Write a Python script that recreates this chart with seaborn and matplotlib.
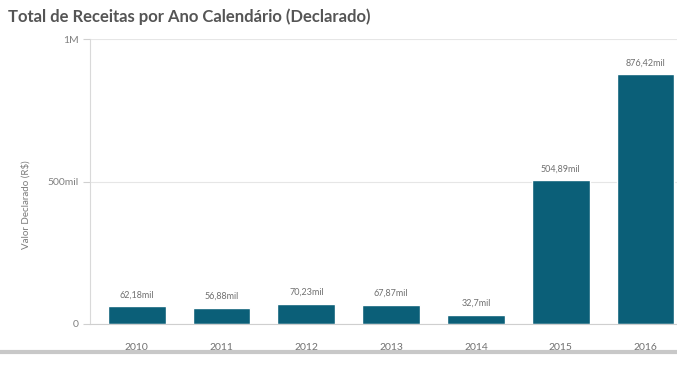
import matplotlib
matplotlib.use("Agg")
import matplotlib.pyplot as plt
import seaborn as sns
import pandas as pd
from matplotlib.lines import Line2D

years = ["2010", "2011", "2012", "2013", "2014", "2015", "2016"]
values = [62180, 56880, 70230, 67870, 32700, 504890, 876420]
value_labels = ["62,18mil", "56,88mil", "70,23mil", "67,87mil", "32,7mil", "504,89mil", "876,42mil"]
y_ticks = [0, 500000, 1000000]
y_tick_labels = ["0", "500mil", "1M"]

df = pd.DataFrame({"ano": years, "valor": values})

sns.set_theme(style="white")
plt.rcParams['font.family'] = ['Lato', 'DejaVu Sans']

fig = plt.figure(figsize=(6.77, 3.69), dpi=100)
ax = fig.add_axes([0.133, 0.122, 0.867, 0.772])

bar_color = "#0b5f78"
sns.barplot(data=df, x="ano", y="valor", color=bar_color, width=0.68,
            saturation=1, ax=ax)

ax.set_ylim(0, 1000000)
ax.set_xlim(-0.55, 6.37)
ax.set_yticks(y_ticks)
ax.set_yticklabels(y_tick_labels)
ax.yaxis.grid(True, color="#e6e6e6", linewidth=0.8)
ax.set_axisbelow(True)

for s in ["top", "right"]:
    ax.spines[s].set_visible(False)
ax.spines["left"].set_color("#d9d9d9")
ax.spines["left"].set_linewidth(0.8)
ax.spines["bottom"].set_color("#cfcfcf")
ax.spines["bottom"].set_linewidth(0.8)

ax.tick_params(axis="y", which="both", left=True, length=5, width=0.8,
               color="#d0d0d0", labelsize=7.5, labelcolor="#808080", pad=3)
ax.tick_params(axis="x", which="both", bottom=False, labelsize=7.5,
               labelcolor="#707070", pad=8)

ax.set_xlabel("")
ax.set_ylabel("Valor Declarado (R$)", fontsize=7, color="#7a7a7a")
ax.yaxis.set_label_coords(-0.102, 0.42)

for cont in ax.containers:
    ax.bar_label(cont, labels=value_labels, padding=5, fontsize=6.5, color="#707070")

fig.text(0.012, 0.955, "Total de Receitas por Ano Calendário (Declarado)",
         fontsize=12, fontweight="bold", color="#555555", ha="left", va="center")

fig.add_artist(Line2D([0.0, 1.0], [0.045, 0.045], transform=fig.transFigure,
                      color="#c8c8c8", linewidth=3))

fig.savefig("out.png", dpi=100)
